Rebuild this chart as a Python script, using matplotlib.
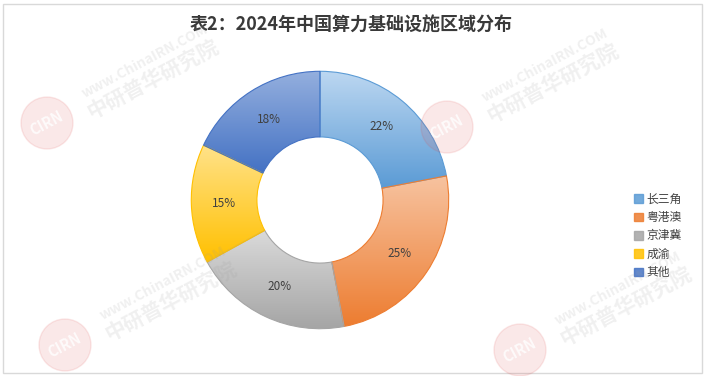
import numpy as np
import matplotlib
matplotlib.use('Agg')
import matplotlib.pyplot as plt
from matplotlib.colors import to_rgba
from matplotlib.patches import Patch, Rectangle

plt.rcParams['font.family'] = ['Noto Sans CJK SC', 'DejaVu Sans']

# data
regions = ['长三角', '粤港澳', '京津冀', '成渝', '其他']
shares = [22, 25, 20, 15, 18]
top_colors = ['#bcd7f1', '#f7c3a0', '#dadada', '#ffe289', '#94afde']
bottom_colors = ['#5b9bd5', '#ed7d31', '#a5a5a5', '#ffc000', '#4472c4']
title = '表2：2024年中国算力基础设施区域分布'

W, H = 705, 376
fig = plt.figure(figsize=(W / 100, H / 100), dpi=100)

# chart frame
fig.patches.append(Rectangle((3 / W, 1 - 373 / H), 699 / W, 369 / H, transform=fig.transFigure,
                             fill=False, edgecolor='#d9d9d9', linewidth=1))

fig.text(351 / W, 1 - 24 / H, title, ha='center', va='center', fontsize=13,
         fontweight='bold', color='#3a3a3a')

# donut axes, centre (320,200) px, radius 130 px
cx, cy, r = 320, 200, 130
ax = fig.add_axes([(cx - r) / W, 1 - (cy + r) / H, 2 * r / W, 2 * r / H])

wedges, texts, autotexts = ax.pie(shares, startangle=90, counterclock=False, radius=1,
                                  autopct='%d%%', pctdistance=0.745,
                                  wedgeprops=dict(width=0.51, facecolor='none', linewidth=0.8),
                                  textprops=dict(fontsize=8.5, color='#404040'))

# vertical gradient inside each wedge, light on top
for w, c0, c1 in zip(wedges, top_colors, bottom_colors):
    w.set_edgecolor(c1)
    w.set_zorder(3)
    ext = w.get_path().get_extents()
    a = np.array(to_rgba(c0))
    b = np.array(to_rgba(c1))
    t = np.linspace(0, 1, 100)[:, None]
    grad = (a * (1 - t) + b * t)[:, None, :]
    im = ax.imshow(grad, extent=(ext.x0, ext.x1, ext.y0, ext.y1), origin='upper',
                   aspect='auto', zorder=1)
    im.set_clip_path(w)

for t in autotexts:
    t.set_zorder(5)

ax.set_xlim(-1.01, 1.01)
ax.set_ylim(-1.01, 1.01)
ax.set_aspect('equal')
ax.axis('off')

handles = [Patch(facecolor=c1, edgecolor=c1, alpha=0.85) for c1 in bottom_colors]
fig.legend(handles, regions, loc='center left', bbox_to_anchor=(628 / W, 1 - 236 / H),
           frameon=False, fontsize=8.5, handlelength=0.75, handleheight=0.75,
           handletextpad=0.3, labelspacing=0.45, borderpad=0, labelcolor='#404040')


# faint watermarks
def watermark(x, y):
    circ = plt.Circle((x, H - y), 26, color='#e05050', alpha=0.13, transform=None, zorder=6)
    fig.patches.append(circ)
    fig.text(x / W, 1 - y / H, 'CIRN', ha='center', va='center', fontsize=10.5, fontweight='bold',
             style='italic', color='white', alpha=0.8, rotation=28, zorder=7)
    fig.text((x + 98) / W, 1 - (y - 62) / H, 'www.ChinaIRN.COM',
             ha='center', va='center', fontsize=10, fontweight='bold', color='#999999',
             alpha=0.15, rotation=28, zorder=7)
    fig.text((x + 106) / W, 1 - (y - 44) / H, '中研普华研究院',
             ha='center', va='center', fontsize=15, fontweight='bold', color='#999999',
             alpha=0.15, rotation=28, zorder=7)


for wx, wy in [(47, 123), (65, 345), (447, 127), (520, 350)]:
    watermark(wx, wy)

fig.savefig('out.png', dpi=100, facecolor='white')
